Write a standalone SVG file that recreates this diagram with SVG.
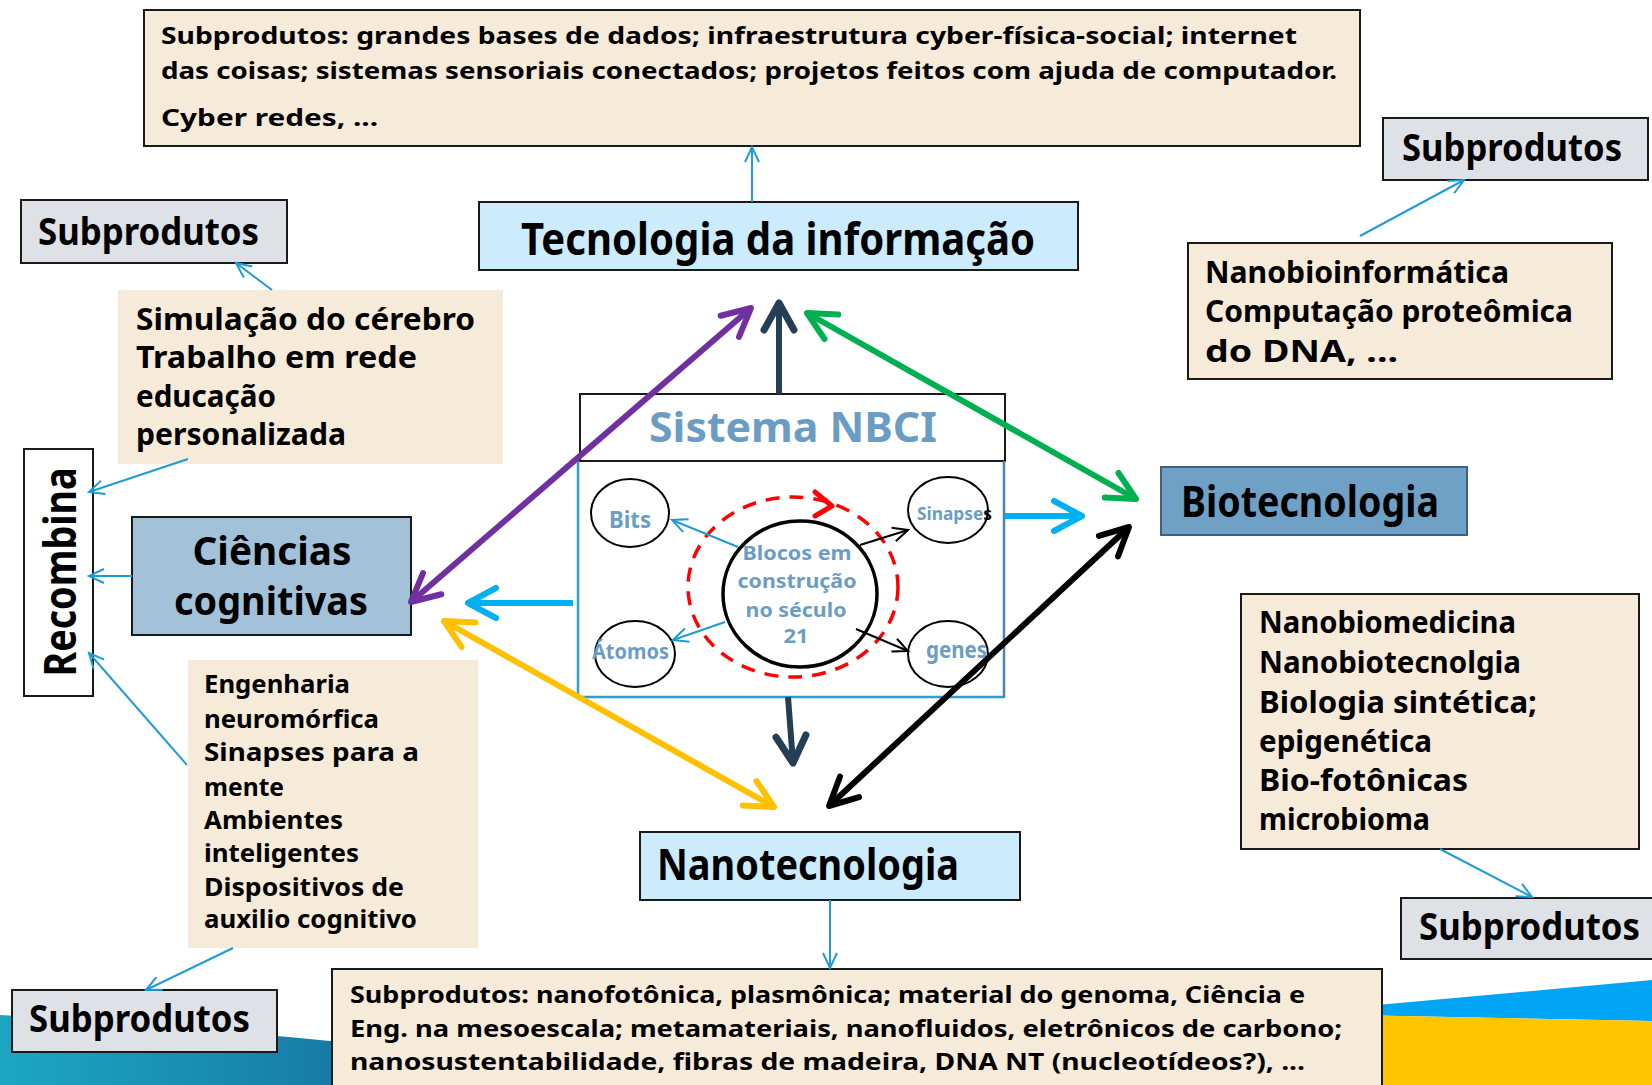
<svg xmlns="http://www.w3.org/2000/svg" width="1652" height="1085" viewBox="0 0 1652 1085">
<defs>
<style>
text{font-family:'Comic Sans MS','Noto Sans','DejaVu Sans',sans-serif;font-weight:bold;fill:#000}
.beige{fill:#F6EBD9}
.bstroke{stroke:#1A1A1A;stroke-width:2}
.sub{fill:#DEE2E7;stroke:#1A1A1A;stroke-width:2}
.lb{fill:#CCEBFC;stroke:#1A1A1A;stroke-width:2}
.t24{font-size:24px}
.t25{font-size:25px}
.t30{font-size:30px}
.t37{font-size:37px}
.blue{fill:#6B9DC4}
.thin{fill:none;stroke:#1F9BD5;stroke-width:2}
.thinb{fill:none;stroke:#000;stroke-width:2}
.thick{fill:none;stroke-width:6}
.ell{fill:none;stroke:#000;stroke-width:2}
</style>
<linearGradient id="gl" x1="0" y1="0" x2="1" y2="0">
<stop offset="0" stop-color="#1CA7C3"/>
<stop offset="1" stop-color="#15709E"/>
</linearGradient>
<marker id="a-thin" markerUnits="userSpaceOnUse" viewBox="-20 -12 24 24" markerWidth="24" markerHeight="24" refX="0" refY="0" orient="auto-start-reverse" overflow="visible">
<path d="M-15,-7 L0,0 L-15,7" fill="none" stroke="#1F9BD5" stroke-width="2"/>
</marker>
<marker id="a-thinb" markerUnits="userSpaceOnUse" viewBox="-20 -12 24 24" markerWidth="24" markerHeight="24" refX="0" refY="0" orient="auto-start-reverse" overflow="visible">
<path d="M-15,-7 L0,0 L-15,7" fill="none" stroke="#000" stroke-width="2"/>
</marker>
<marker id="a-slate" markerUnits="userSpaceOnUse" viewBox="-40 -30 50 60" markerWidth="50" markerHeight="60" refX="0" refY="0" orient="auto-start-reverse" overflow="visible">
<path d="M-27,-15 L0,0 L-27,15" fill="none" stroke="#243F55" stroke-width="7" stroke-linecap="round" stroke-linejoin="round"/>
</marker>
<marker id="a-lblue" markerUnits="userSpaceOnUse" viewBox="-40 -30 50 60" markerWidth="50" markerHeight="60" refX="0" refY="0" orient="auto-start-reverse" overflow="visible">
<path d="M-28,-15 L0,0 L-28,15" fill="none" stroke="#00B0F0" stroke-width="6" stroke-linecap="round" stroke-linejoin="round"/>
</marker>
<marker id="a-purple" markerUnits="userSpaceOnUse" viewBox="-40 -30 50 60" markerWidth="50" markerHeight="60" refX="0" refY="0" orient="auto-start-reverse" overflow="visible">
<path d="M-28,-14 L0,0 L-28,14" fill="none" stroke="#7030A0" stroke-width="6" stroke-linecap="round" stroke-linejoin="round"/>
</marker>
<marker id="a-green" markerUnits="userSpaceOnUse" viewBox="-40 -30 50 60" markerWidth="50" markerHeight="60" refX="0" refY="0" orient="auto-start-reverse" overflow="visible">
<path d="M-28,-14 L0,0 L-28,14" fill="none" stroke="#00B050" stroke-width="6" stroke-linecap="round" stroke-linejoin="round"/>
</marker>
<marker id="a-yellow" markerUnits="userSpaceOnUse" viewBox="-40 -30 50 60" markerWidth="50" markerHeight="60" refX="0" refY="0" orient="auto-start-reverse" overflow="visible">
<path d="M-28,-14 L0,0 L-28,14" fill="none" stroke="#FFC000" stroke-width="6" stroke-linecap="round" stroke-linejoin="round"/>
</marker>
<marker id="a-black" markerUnits="userSpaceOnUse" viewBox="-40 -30 50 60" markerWidth="50" markerHeight="60" refX="0" refY="0" orient="auto-start-reverse" overflow="visible">
<path d="M-28,-14 L0,0 L-28,14" fill="none" stroke="#000" stroke-width="6" stroke-linecap="round" stroke-linejoin="round"/>
</marker>
</defs>

<rect width="1652" height="1085" fill="#FFFFFF"/>

<g id="background">
<path d="M0,1015 C120,1020 260,1034 420,1050 L420,1085 L0,1085 Z" fill="url(#gl)"/>
<path d="M1300,1012 L1652,980 L1652,1021 L1300,1014 Z" fill="#00A6F6"/>
<path d="M1300,1014 L1652,1021 L1652,1085 L1300,1085 Z" fill="#FFC600"/>
</g>

<g id="n-top-sub">
<rect x="144" y="10" width="1216" height="136" class="beige bstroke"/>
<text x="161" y="44" class="t24" textLength="1136" lengthAdjust="spacingAndGlyphs">Subprodutos: grandes bases de dados; infraestrutura cyber-física-social; internet</text>
<text x="161" y="79" class="t24" textLength="1176" lengthAdjust="spacingAndGlyphs">das coisas; sistemas sensoriais conectados; projetos feitos com ajuda de computador.</text>
<text x="161" y="126" class="t24" textLength="217" lengthAdjust="spacingAndGlyphs">Cyber redes, ...</text>
</g>

<g id="n-ti">
<rect x="479" y="202" width="599" height="68" class="lb"/>
<text x="521" y="255" font-size="45" textLength="514" lengthAdjust="spacingAndGlyphs">Tecnologia da informação</text>
</g>

<g id="n-sub-left">
<rect x="21" y="200" width="266" height="63" class="sub"/>
<text x="38" y="245" class="t37" textLength="221" lengthAdjust="spacingAndGlyphs">Subprodutos</text>
</g>

<g id="n-simulacao">
<rect x="118" y="290" width="385" height="174" class="beige"/>
<text x="136" y="330" class="t30" textLength="339" lengthAdjust="spacingAndGlyphs">Simulação do cérebro</text>
<text x="136" y="368" class="t30" textLength="281" lengthAdjust="spacingAndGlyphs">Trabalho em rede</text>
<text x="136" y="407" class="t30" textLength="140" lengthAdjust="spacingAndGlyphs">educação</text>
<text x="136" y="445" class="t30" textLength="210" lengthAdjust="spacingAndGlyphs">personalizada</text>
</g>

<g id="n-recombina">
<rect x="24" y="449" width="69" height="247" fill="#FFFFFF" class="bstroke"/>
<text transform="translate(76,572) rotate(-90)" x="0" y="0" text-anchor="middle" font-size="45" textLength="209" lengthAdjust="spacingAndGlyphs">Recombina</text>
</g>

<g id="n-ciencias">
<rect x="132" y="517" width="279" height="118" fill="#A3C2D9" class="bstroke"/>
<text x="272" y="565" text-anchor="middle" font-size="39" textLength="159" lengthAdjust="spacingAndGlyphs">Ciências</text>
<text x="271" y="615" text-anchor="middle" font-size="39" textLength="194" lengthAdjust="spacingAndGlyphs">cognitivas</text>
</g>

<g id="n-engenharia">
<rect x="188" y="660" width="290" height="288" class="beige"/>
<text x="204" y="693" class="t25" textLength="146" lengthAdjust="spacingAndGlyphs">Engenharia</text>
<text x="204" y="728" class="t25" textLength="175" lengthAdjust="spacingAndGlyphs">neuromórfica</text>
<text x="204" y="761" class="t25" textLength="215" lengthAdjust="spacingAndGlyphs">Sinapses para a</text>
<text x="204" y="796" class="t25" textLength="80" lengthAdjust="spacingAndGlyphs">mente</text>
<text x="204" y="829" class="t25" textLength="139" lengthAdjust="spacingAndGlyphs">Ambientes</text>
<text x="204" y="862" class="t25" textLength="155" lengthAdjust="spacingAndGlyphs">inteligentes</text>
<text x="204" y="896" class="t25" textLength="200" lengthAdjust="spacingAndGlyphs">Dispositivos de</text>
<text x="204" y="928" class="t25" textLength="213" lengthAdjust="spacingAndGlyphs">auxilio cognitivo</text>
</g>

<g id="n-sub-bottomleft">
<rect x="12" y="990" width="265" height="62" class="sub"/>
<text x="29" y="1032" class="t37" textLength="221" lengthAdjust="spacingAndGlyphs">Subprodutos</text>
</g>

<g id="n-nbci">
<rect x="580" y="394" width="425" height="67" fill="#FFFFFF" class="bstroke"/>
<text x="649" y="442" font-size="42" class="blue" textLength="288" lengthAdjust="spacingAndGlyphs">Sistema NBCI</text>
<line x1="578" y1="461" x2="578" y2="698" stroke="#2A9FD6" stroke-width="2.5"/>
<line x1="577" y1="697" x2="1005" y2="697" stroke="#2A9FD6" stroke-width="2.5"/>
<line x1="1004" y1="461" x2="1004" y2="698" stroke="#4F81BD" stroke-width="2.5"/>
</g>

<g id="n-bits">
<ellipse cx="630" cy="513" rx="39" ry="34" class="ell"/>
<text x="609" y="528" font-size="23" class="blue" textLength="42" lengthAdjust="spacingAndGlyphs">Bits</text>
</g>
<g id="n-atomos">
<ellipse cx="635" cy="654" rx="40" ry="33" class="ell"/>
<text x="592" y="659" font-size="22" class="blue" textLength="77" lengthAdjust="spacingAndGlyphs">Átomos</text>
</g>
<g id="n-sinapses">
<ellipse cx="948" cy="510" rx="40" ry="33" class="ell"/>
<text x="917" y="520" font-size="18" textLength="75" lengthAdjust="spacingAndGlyphs"><tspan class="blue">Sinapse</tspan><tspan>s</tspan></text>
</g>
<g id="n-genes">
<ellipse cx="948" cy="654" rx="40" ry="33" class="ell"/>
<text x="926" y="658" font-size="23" class="blue" textLength="61" lengthAdjust="spacingAndGlyphs">genes</text>
</g>

<g id="n-blocos">
<ellipse cx="793" cy="587" rx="105" ry="90" fill="none" stroke="#FF0000" stroke-width="3.5" stroke-dasharray="14 10"/>
<polyline points="815,492 832,506 815,516" fill="none" stroke="#FF0000" stroke-width="5" stroke-linecap="round" stroke-linejoin="round"/>
<ellipse cx="800" cy="594" rx="77" ry="73" fill="none" stroke="#000" stroke-width="3.5"/>
<text x="797" y="560" text-anchor="middle" font-size="20" class="blue" textLength="109" lengthAdjust="spacingAndGlyphs">Blocos em</text>
<text x="797" y="588" text-anchor="middle" font-size="20" class="blue" textLength="119" lengthAdjust="spacingAndGlyphs">construção</text>
<text x="796" y="617" text-anchor="middle" font-size="20" class="blue" textLength="101" lengthAdjust="spacingAndGlyphs">no século</text>
<text x="796" y="643" text-anchor="middle" font-size="20" class="blue" textLength="25" lengthAdjust="spacingAndGlyphs">21</text>
</g>

<g id="n-biotec">
<rect x="1161" y="467" width="306" height="68" fill="#6FA0C5" stroke="#41607E" stroke-width="2"/>
<text x="1181" y="517" font-size="43" textLength="258" lengthAdjust="spacingAndGlyphs">Biotecnologia</text>
</g>

<g id="n-nanobioinf">
<rect x="1188" y="243" width="424" height="136" class="beige bstroke"/>
<text x="1205" y="283" class="t30" textLength="304" lengthAdjust="spacingAndGlyphs">Nanobioinformática</text>
<text x="1205" y="322" class="t30" textLength="368" lengthAdjust="spacingAndGlyphs">Computação proteômica</text>
<text x="1205" y="362" class="t30" textLength="193" lengthAdjust="spacingAndGlyphs">do DNA, ...</text>
</g>

<g id="n-sub-topright">
<rect x="1383" y="118" width="265" height="62" class="sub"/>
<text x="1402" y="161" class="t37" textLength="220" lengthAdjust="spacingAndGlyphs">Subprodutos</text>
</g>

<g id="n-nanobiomed">
<rect x="1241" y="594" width="398" height="255" class="beige bstroke"/>
<text x="1259" y="633" class="t30" textLength="257" lengthAdjust="spacingAndGlyphs">Nanobiomedicina</text>
<text x="1259" y="673" class="t30" textLength="262" lengthAdjust="spacingAndGlyphs">Nanobiotecnolgia</text>
<text x="1259" y="713" class="t30" textLength="278" lengthAdjust="spacingAndGlyphs">Biologia sintética;</text>
<text x="1259" y="752" class="t30" textLength="173" lengthAdjust="spacingAndGlyphs">epigenética</text>
<text x="1259" y="791" class="t30" textLength="209" lengthAdjust="spacingAndGlyphs">Bio-fotônicas</text>
<text x="1259" y="830" class="t30" textLength="171" lengthAdjust="spacingAndGlyphs">microbioma</text>
</g>

<g id="n-sub-bottomright">
<rect x="1401" y="898" width="256" height="61" class="sub"/>
<text x="1419" y="940" class="t37" textLength="221" lengthAdjust="spacingAndGlyphs">Subprodutos</text>
</g>

<g id="n-nanotec">
<rect x="640" y="832" width="380" height="68" class="lb"/>
<text x="657" y="880" font-size="43" textLength="302" lengthAdjust="spacingAndGlyphs">Nanotecnologia</text>
</g>

<g id="n-bottom-sub">
<rect x="332" y="969" width="1050" height="130" class="beige bstroke"/>
<text x="350" y="1003" class="t24" textLength="955" lengthAdjust="spacingAndGlyphs">Subprodutos: nanofotônica, plasmônica; material do genoma, Ciência e</text>
<text x="350" y="1037" class="t24" textLength="992" lengthAdjust="spacingAndGlyphs">Eng. na mesoescala; metamateriais, nanofluidos, eletrônicos de carbono;</text>
<text x="350" y="1070" class="t24" textLength="955" lengthAdjust="spacingAndGlyphs">nanosustentabilidade, fibras de madeira, DNA NT (nucleotídeos?), ...</text>
</g>

<g id="connectors">
<line x1="752" y1="202" x2="752" y2="147" class="thin" marker-end="url(#a-thin)"/>
<line x1="272" y1="290" x2="236" y2="263" class="thin" marker-end="url(#a-thin)"/>
<line x1="188" y1="459" x2="89" y2="492" class="thin" marker-end="url(#a-thin)"/>
<line x1="132" y1="576" x2="89" y2="576" class="thin" marker-end="url(#a-thin)"/>
<line x1="187" y1="765" x2="89" y2="653" class="thin" marker-end="url(#a-thin)"/>
<line x1="233" y1="948" x2="146" y2="990" class="thin" marker-end="url(#a-thin)"/>
<line x1="1360" y1="236" x2="1464" y2="180" class="thin" marker-end="url(#a-thin)"/>
<line x1="1440" y1="849" x2="1532" y2="897" class="thin" marker-end="url(#a-thin)"/>
<line x1="830" y1="900" x2="830" y2="968" class="thin" marker-end="url(#a-thin)"/>
<line x1="738" y1="547" x2="672" y2="520" class="thin" marker-end="url(#a-thin)"/>
<line x1="725" y1="622" x2="673" y2="640" class="thin" marker-end="url(#a-thin)"/>
<line x1="860" y1="545" x2="908" y2="530" class="thinb" marker-end="url(#a-thinb)"/>
<line x1="856" y1="629" x2="908" y2="651" class="thinb" marker-end="url(#a-thinb)"/>
<line x1="779" y1="394" x2="779" y2="303" class="thick" stroke="#243F55" stroke-width="7" marker-end="url(#a-slate)"/>
<line x1="788" y1="697" x2="793" y2="763" class="thick" stroke="#243F55" stroke-width="7" marker-end="url(#a-slate)"/>
<line x1="573" y1="603" x2="468" y2="603" class="thick" stroke="#00B0F0" marker-end="url(#a-lblue)"/>
<line x1="1005" y1="516" x2="1082" y2="516" class="thick" stroke="#00B0F0" marker-end="url(#a-lblue)"/>
<line x1="411" y1="602" x2="751" y2="308" class="thick" stroke="#7030A0" marker-start="url(#a-purple)" marker-end="url(#a-purple)"/>
<line x1="807" y1="313" x2="1136" y2="499" class="thick" stroke="#00B050" marker-start="url(#a-green)" marker-end="url(#a-green)"/>
<line x1="444" y1="621" x2="774" y2="807" class="thick" stroke="#FFC000" marker-start="url(#a-yellow)" marker-end="url(#a-yellow)"/>
<line x1="829" y1="806" x2="1129" y2="527" class="thick" stroke="#000000" marker-start="url(#a-black)" marker-end="url(#a-black)"/>
</g>
</svg>
